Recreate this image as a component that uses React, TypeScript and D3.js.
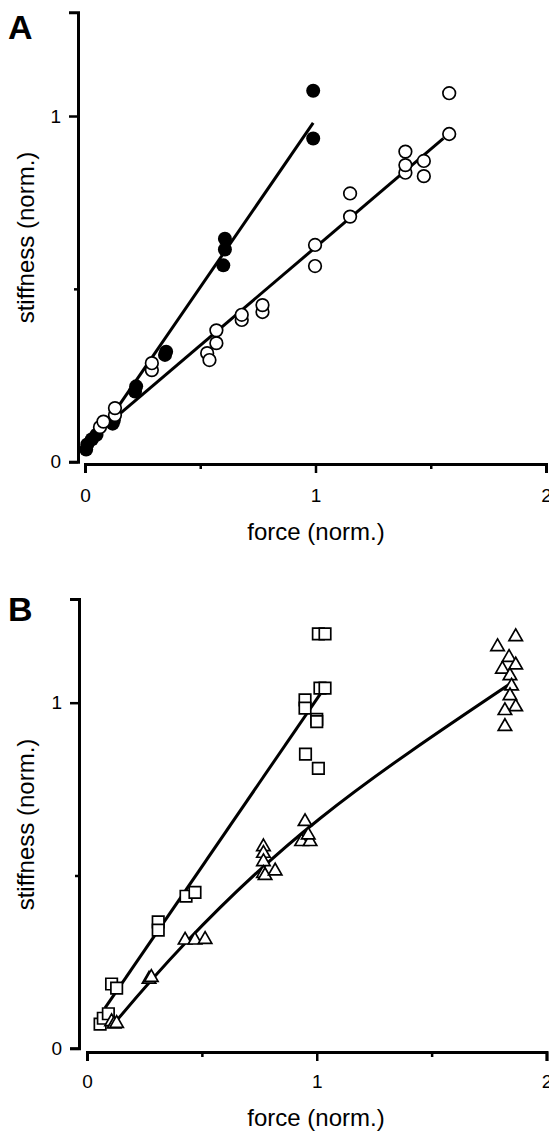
import React, { useEffect, useRef } from 'react';
import * as d3 from 'd3';

// panel A: filled vs open circles, each with its straight fit
const filledA = [
  [0.005, 0.035], [0.01, 0.05], [0.03, 0.065], [0.05, 0.078],
  [0.12, 0.11], [0.125, 0.12], [0.217, 0.203], [0.222, 0.218],
  [0.347, 0.309], [0.352, 0.318], [0.6, 0.568], [0.607, 0.614],
  [0.607, 0.645], [0.99, 0.935], [0.99, 1.073]
];
const openA = [
  [0.065, 0.1], [0.08, 0.116], [0.13, 0.135], [0.13, 0.155],
  [0.29, 0.265], [0.29, 0.285], [0.53, 0.314], [0.54, 0.294],
  [0.57, 0.343], [0.57, 0.38], [0.68, 0.41], [0.68, 0.425],
  [0.77, 0.433], [0.77, 0.453], [0.998, 0.566], [0.998, 0.627],
  [1.15, 0.709], [1.15, 0.776], [1.39, 0.836], [1.39, 0.858],
  [1.39, 0.897], [1.47, 0.826], [1.47, 0.87], [1.58, 0.948],
  [1.58, 1.066]
];
const fitFilledA = [[0, 0.02], [0.99, 0.98]];
const fitOpenA = [[0.06, 0.087], [1.555, 0.935]];

// panel B: squares and triangles
const squaresB = [
  [0.057, 0.07], [0.071, 0.087], [0.093, 0.1], [0.107, 0.186],
  [0.129, 0.174], [0.31, 0.366], [0.31, 0.342], [0.431, 0.44],
  [0.47, 0.451], [0.949, 1.008], [0.949, 0.984], [0.951, 0.851],
  [1.0, 0.952], [1.0, 0.945], [1.007, 0.81], [1.014, 1.042],
  [1.036, 1.042], [1.007, 1.199], [1.036, 1.199]
];
const trianglesB = [
  [0.107, 0.077], [0.118, 0.07], [0.129, 0.072], [0.27, 0.2],
  [0.28, 0.205], [0.427, 0.313], [0.47, 0.313], [0.514, 0.315],
  [0.768, 0.583], [0.768, 0.564], [0.768, 0.54], [0.768, 0.506],
  [0.775, 0.5], [0.819, 0.513], [0.949, 0.656], [0.934, 0.598],
  [0.971, 0.598], [0.963, 0.617], [1.787, 1.162], [1.866, 1.191],
  [1.837, 1.131], [1.866, 1.109], [1.808, 1.097], [1.841, 1.078],
  [1.848, 1.048], [1.841, 1.02], [1.866, 0.988], [1.819, 0.977],
  [1.819, 0.931]
];
const fitSquaresB = [[0.078, 0.116], [1.015, 1.025]];
const fitTrianglesB = [[0.11, 0.065], [0.427, 0.304], [1.014, 0.665], [1.84, 1.054]];

const xMajor = [0, 1, 2];
const xMinor = [0.5, 1.5];
const yMajor = [0, 1];
const yMinor = [0.5];
const xTitle = 'force (norm.)';
const yTitle = 'stiffness (norm.)';

const FONT = '"Liberation Sans", Arial, Helvetica, sans-serif';

const panels = [
  { label: 'A', labelY: 39, x0: 85, x1: 546, y0: 461.7, yTop: 12.3, yAxisX: 78, xAxisY: 464, tickLabelY: 502, titleY: 540, yTitleY: 237.5 },
  { label: 'B', labelY: 621, x0: 87, x1: 546.5, y0: 1048.3, yTop: 599, yAxisX: 79, xAxisY: 1052, tickLabelY: 1088, titleY: 1126, yTitleY: 824.5 }
];

function drawPanel(svg, p, sets) {
  const x = d3.scaleLinear().domain([0, 2]).range([p.x0, p.x1]);
  const y = d3.scaleLinear().domain([0, 1.3]).range([p.y0, p.yTop]);
  const g = svg.append('g');

  // x axis
  const xAxis = d3.axisBottom(x).tickValues(xMajor.concat(xMinor)).tickSizeOuter(0).tickSize(9)
    .tickFormat(d => (xMajor.includes(d) ? String(d) : ''));
  const gx = g.append('g').attr('transform', `translate(0,${p.xAxisY})`).call(xAxis);
  gx.select('.domain').attr('stroke-width', 3);
  gx.selectAll('.tick line').attr('stroke-width', 2.5)
    .attr('y2', d => (xMajor.includes(d) ? 9 : 5));
  gx.selectAll('.tick text').attr('y', p.tickLabelY - p.xAxisY).attr('dy', 0)
    .attr('font-size', 19).attr('font-family', FONT).attr('fill', '#000');

  // y axis
  const yAxis = d3.axisLeft(y).tickValues(yMajor.concat(yMinor)).tickSizeOuter(0).tickSize(9)
    .tickFormat(d => (yMajor.includes(d) ? String(d) : ''));
  const gy = g.append('g').attr('transform', `translate(${p.yAxisX},0)`).call(yAxis);
  gy.select('.domain').attr('stroke-width', 3);
  gy.selectAll('.tick line').attr('stroke-width', 2.5)
    .attr('x2', d => (yMajor.includes(d) ? -9 : -4));
  gy.selectAll('.tick text').attr('x', -17).attr('font-size', 19)
    .attr('font-family', FONT).attr('fill', '#000');

  // fits
  sets.lines.forEach(l => {
    const line = d3.line().x(d => x(d[0])).y(d => y(d[1])).curve(l.curve || d3.curveLinear);
    g.append('path').datum(l.data).attr('d', line).attr('fill', 'none')
      .attr('stroke', '#000').attr('stroke-width', 3);
  });

  // markers
  sets.points.forEach(s => {
    const sel = g.append('g').selectAll('path').data(s.data).enter();
    if (s.shape === 'circle') {
      sel.append('circle').attr('cx', d => x(d[0])).attr('cy', d => y(d[1]))
        .attr('r', s.filled ? 7 : 6.3)
        .attr('fill', s.filled ? '#000' : '#fff')
        .attr('stroke', '#000').attr('stroke-width', s.filled ? 0 : 1.7);
    } else {
      const sym = d3.symbol(s.shape === 'square' ? d3.symbolSquare : d3.symbolTriangle, s.shape === 'square' ? 132 : 78);
      sel.append('path').attr('d', sym)
        .attr('transform', d => `translate(${x(d[0])},${y(d[1])})`)
        .attr('fill', '#fff').attr('stroke', '#000').attr('stroke-width', 1.7);
    }
  });

  // titles
  g.append('text').attr('x', 316).attr('y', p.titleY).attr('text-anchor', 'middle')
    .attr('font-size', 24).attr('font-family', FONT).text(xTitle);
  g.append('text').attr('transform', `translate(34,${p.yTitleY}) rotate(-90)`)
    .attr('text-anchor', 'middle').attr('font-size', 24).attr('font-family', FONT).text(yTitle);
  g.append('text').attr('x', 8).attr('y', p.labelY).attr('font-size', 34)
    .attr('font-weight', 'bold').attr('font-family', FONT).text(p.label);
}

export default function App() {
  const ref = useRef(null);

  useEffect(() => {
    const svg = d3.select(ref.current);
    svg.selectAll('*').remove();

    drawPanel(svg, panels[0], {
      lines: [{ data: fitFilledA }, { data: fitOpenA }],
      points: [
        { data: filledA, shape: 'circle', filled: true },
        { data: openA, shape: 'circle', filled: false }
      ]
    });
    drawPanel(svg, panels[1], {
      lines: [{ data: fitSquaresB }, { data: fitTrianglesB, curve: d3.curveNatural }],
      points: [
        { data: squaresB, shape: 'square' },
        { data: trianglesB, shape: 'triangle' }
      ]
    });
  }, []);

  return (
    <svg ref={ref} width={549} height={1131}
      style={{ position: 'absolute', left: 0, top: 0, background: '#fff' }} />
  );
}
